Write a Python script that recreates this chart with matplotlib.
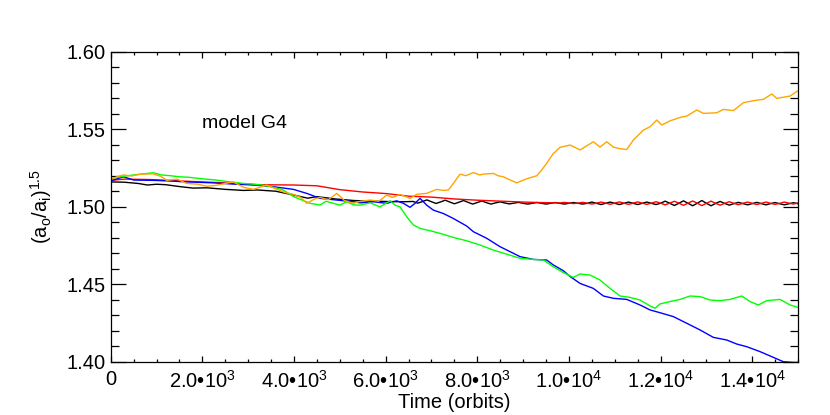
import numpy as np
import matplotlib
matplotlib.use("Agg")
import matplotlib.pyplot as plt
from matplotlib.ticker import MultipleLocator, FuncFormatter

plt.rcParams['font.family'] = ['Liberation Sans', 'DejaVu Sans']
plt.rcParams['mathtext.fontset'] = 'custom'
plt.rcParams['mathtext.rm'] = 'Liberation Sans'
plt.rcParams['mathtext.it'] = 'Liberation Sans'

# --- data (time in orbits, ratio (ao/ai)^1.5) ---
t_orange = [0, 150, 275, 450, 650, 930, 1100, 1222, 1450, 1658, 1900, 2095, 2300, 2500,
            2677, 2900, 3113, 3250, 3404, 3600, 3800, 3985, 4150, 4277, 4450, 4568, 4750,
            4932, 5100, 5295, 5450, 5659, 5850, 6023, 6150, 6314, 6532, 6678, 6896, 7115,
            7250, 7368, 7478, 7624, 7750, 7914, 8050, 8133, 8351, 8450, 8569, 8700, 8860,
            8950, 9079, 9298, 9400, 9516, 9650, 9806, 10024, 10150, 10243, 10400, 10533,
            10679, 10825, 10970, 11100, 11262, 11406, 11624, 11770, 11916, 12025, 12207,
            12425, 12571, 12789, 12934, 13226, 13371, 13589, 13807, 14025, 14243, 14426,
            14536, 14826, 15000]
v_orange = [1.5177, 1.5195, 1.5205, 1.5198, 1.5210, 1.5212, 1.5195, 1.5170, 1.5178, 1.5150,
            1.5145, 1.5132, 1.5138, 1.5150, 1.5160, 1.5125, 1.5112, 1.5125, 1.5140, 1.5115,
            1.5092, 1.5080, 1.5060, 1.5022, 1.5050, 1.5060, 1.5045, 1.5086, 1.5040, 1.5022,
            1.5035, 1.5043, 1.5035, 1.5075, 1.5060, 1.5079, 1.5054, 1.5080, 1.5086, 1.5112,
            1.5105, 1.5108, 1.5150, 1.5210, 1.5200, 1.5220, 1.5205, 1.5210, 1.5215, 1.5200,
            1.5193, 1.5175, 1.5154, 1.5165, 1.5180, 1.5200, 1.5235, 1.5280, 1.5340, 1.5383,
            1.5398, 1.5380, 1.5366, 1.5395, 1.5419, 1.5385, 1.5419, 1.5385, 1.5375, 1.5369,
            1.5430, 1.5494, 1.5516, 1.5559, 1.5527, 1.5554, 1.5576, 1.5585, 1.5624, 1.5602,
            1.5606, 1.5628, 1.5620, 1.5671, 1.5684, 1.5693, 1.5727, 1.5699, 1.5714, 1.5749]

t_green = [0, 200, 500, 700, 930, 1100, 1300, 1500, 1700, 2000, 2300, 2600, 2900, 3100, 3300,
           3550, 3750, 4000, 4200, 4350, 4568, 4700, 4859, 5000, 5150, 5300, 5441, 5659, 5877,
           6096, 6205, 6314, 6460, 6605, 6751, 6969, 7187, 7478, 7770, 8060, 8351, 8643, 8933,
           9224, 9442, 9660, 9878, 10097, 10243, 10461, 10679, 10897, 11116, 11334, 11552,
           11770, 11879, 11989, 12207, 12425, 12643, 12861, 13080, 13298, 13516, 13771, 13953,
           14134, 14317, 14608, 14826, 15000]
v_green = [1.5180, 1.5193, 1.5205, 1.5212, 1.5219, 1.5205, 1.5200, 1.5193, 1.5190, 1.5180,
           1.5172, 1.5160, 1.5150, 1.5146, 1.5140, 1.5125, 1.5110, 1.5064, 1.5040, 1.5022,
           1.5011, 1.5035, 1.5022, 1.5010, 1.5032, 1.5012, 1.5010, 1.5025, 1.4999, 1.5038,
           1.5010, 1.4999, 1.4935, 1.4882, 1.4860, 1.4845, 1.4828, 1.4802, 1.4780, 1.4753,
           1.4720, 1.4694, 1.4667, 1.4660, 1.4656, 1.4613, 1.4575, 1.4544, 1.4566, 1.4559,
           1.4527, 1.4473, 1.4424, 1.4415, 1.4398, 1.4360, 1.4345, 1.4373, 1.4388, 1.4402,
           1.4424, 1.4420, 1.4398, 1.4394, 1.4402, 1.4424, 1.4388, 1.4366, 1.4394, 1.4402,
           1.4366, 1.4351]

t_blue = [0, 280, 500, 930, 1222, 1658, 2240, 2677, 3113, 3550, 3985, 4277, 4568, 4932, 5295,
          5441, 5732, 6023, 6242, 6387, 6532, 6641, 6751, 6896, 7041, 7260, 7478, 7770, 7914,
          8206, 8497, 8715, 8933, 9224, 9515, 9660, 9878, 10024, 10243, 10533, 10752, 10970,
          11262, 11552, 11770, 11989, 12279, 12571, 12861, 13152, 13444, 13662, 13880, 14171,
          14462, 14680, 14898, 15000]
v_blue = [1.5167, 1.5193, 1.5172, 1.5170, 1.5167, 1.5160, 1.5154, 1.5146, 1.5140, 1.5129,
          1.5112, 1.5086, 1.5054, 1.5043, 1.5032, 1.5025, 1.5032, 1.5022, 1.5038, 1.5022,
          1.4996, 1.5022, 1.5054, 1.5010, 1.4978, 1.4956, 1.4924, 1.4875, 1.4839, 1.4796,
          1.4742, 1.4710, 1.4678, 1.4660, 1.4656, 1.4624, 1.4587, 1.4550, 1.4505, 1.4473,
          1.4424, 1.4409, 1.4402, 1.4366, 1.4334, 1.4316, 1.4291, 1.4248, 1.4205, 1.4157,
          1.4140, 1.4114, 1.4097, 1.4065, 1.4028, 1.4000, 1.3995, 1.3995]

# black: irregular early part, then samples every 100 orbits from 6600
t_black_early = [0, 300, 600, 800, 1000, 1200, 1500, 1800, 2100, 2500, 2900, 3200, 3600,
                 4000, 4300, 4500, 4900, 5300, 5700, 6100, 6400]
v_black_early = [1.5160, 1.5158, 1.5150, 1.5140, 1.5145, 1.5142, 1.5130, 1.5120, 1.5122,
                 1.5112, 1.5105, 1.5108, 1.5100, 1.5075, 1.5055, 1.5065, 1.5050, 1.5040,
                 1.5036, 1.5033, 1.5032]
v_black_late = [1.5034, 1.5023, 1.5033, 1.5044, 1.5032, 1.5021, 1.5031, 1.5042, 1.5030,
                1.5019, 1.5029, 1.5040, 1.5028, 1.5017, 1.5027, 1.5037, 1.5026, 1.5017,
                1.5025, 1.5031, 1.5024, 1.5018, 1.5023, 1.5028, 1.5022, 1.5017, 1.5022,
                1.5027, 1.5022, 1.5017, 1.5022, 1.5027, 1.5022, 1.5017, 1.5022, 1.5027,
                1.5022, 1.5017, 1.5022, 1.5030, 1.5022, 1.5014, 1.5022, 1.5030, 1.5022,
                1.5014, 1.5022, 1.5030, 1.5022, 1.5014, 1.5022, 1.5030, 1.5022, 1.5014,
                1.5022, 1.5036, 1.5022, 1.5008, 1.5022, 1.5038, 1.5022, 1.5006, 1.5022,
                1.5040, 1.5022, 1.5006, 1.5021, 1.5034, 1.5021, 1.5010, 1.5020, 1.5028,
                1.5020, 1.5012, 1.5020, 1.5028, 1.5020, 1.5012, 1.5020, 1.5027, 1.5019,
                1.5012, 1.5019, 1.5026, 1.5019]
t_black_late = list(range(6600, 15001, 100))

t_red_early = [0, 300, 900, 1600, 2400, 3200, 4000, 4500, 5000, 5500, 6000, 6500, 7000,
               7500, 8000, 8500, 9000, 9500, 9700]
v_red_early = [1.5170, 1.5178, 1.5175, 1.5165, 1.5155, 1.5142, 1.5140, 1.5135, 1.5110,
               1.5095, 1.5085, 1.5068, 1.5062, 1.5050, 1.5042, 1.5036, 1.5030, 1.5026,
               1.5025]
v_red_late = [1.5024, 1.5028, 1.5024, 1.5020, 1.5023, 1.5028, 1.5023, 1.5017, 1.5023,
              1.5030, 1.5023, 1.5016, 1.5023, 1.5031, 1.5023, 1.5015, 1.5023, 1.5031,
              1.5023, 1.5015, 1.5023, 1.5032, 1.5023, 1.5012, 1.5023, 1.5035, 1.5023,
              1.5009, 1.5023, 1.5037, 1.5023, 1.5007, 1.5022, 1.5036, 1.5022, 1.5010,
              1.5022, 1.5032, 1.5022, 1.5013, 1.5022, 1.5030, 1.5022, 1.5014, 1.5022,
              1.5030, 1.5022, 1.5015, 1.5022, 1.5030, 1.5023, 1.5017, 1.5025]
t_red_late = list(range(9800, 15001, 100))

t_black = t_black_early + t_black_late
v_black = v_black_early + v_black_late
t_red = t_red_early + t_red_late
v_red = v_red_early + v_red_late

x_ticks_major = 2000
x_ticks_minor = 500


def time_fmt(x, pos):
    if x <= 0:
        return "0"
    e = int(np.floor(np.log10(x)))
    m = x / 10**e
    return "%.1f\u202210$^{%d}$" % (m, e)


fig = plt.figure(figsize=(8.3, 4.15), dpi=100)
ax = fig.add_axes([0.1334, 0.1284, 0.8281, 0.7470])

lw = 1.0
ax.plot(t_black, v_black, color='black', lw=lw)
ax.plot(t_red, v_red, color='#ff0000', lw=lw)
ax.plot(t_blue, v_blue, color='#0000ff', lw=lw)
ax.plot(t_green, v_green, color='#00ff00', lw=lw)
ax.plot(t_orange, v_orange, color='#ffa500', lw=lw)

ax.set_xlim(0, 15000)
ax.set_ylim(1.40, 1.60)
ax.xaxis.set_major_locator(MultipleLocator(x_ticks_major))
ax.xaxis.set_minor_locator(MultipleLocator(x_ticks_minor))
ax.yaxis.set_major_locator(MultipleLocator(0.05))
ax.yaxis.set_minor_locator(MultipleLocator(0.01))
ax.xaxis.set_major_formatter(FuncFormatter(time_fmt))
ax.yaxis.set_major_formatter(FuncFormatter(lambda y, p: "%.2f" % y))

ax.tick_params(axis='both', which='both', direction='in', top=True, right=True,
               width=0.9, labelsize=14.5, color='black')
ax.tick_params(axis='x', which='major', length=4.3, pad=6)
ax.tick_params(axis='x', which='minor', length=2.2)
ax.tick_params(axis='y', which='major', length=10.8, pad=4)
ax.tick_params(axis='y', which='minor', length=5.8)
for s in ax.spines.values():
    s.set_linewidth(0.9)

ax.set_xlabel("Time (orbits)", fontsize=14.5, labelpad=1)
ax.set_ylabel("(a$_o$/a$_i$)$^{1.5}$", fontsize=14.5)
ax.yaxis.set_label_coords(-0.082, 0.5)

ax.text(2000, 1.5535, "model G4", fontsize=14, va='center', ha='left')

fig.savefig("out.png", dpi=100)
